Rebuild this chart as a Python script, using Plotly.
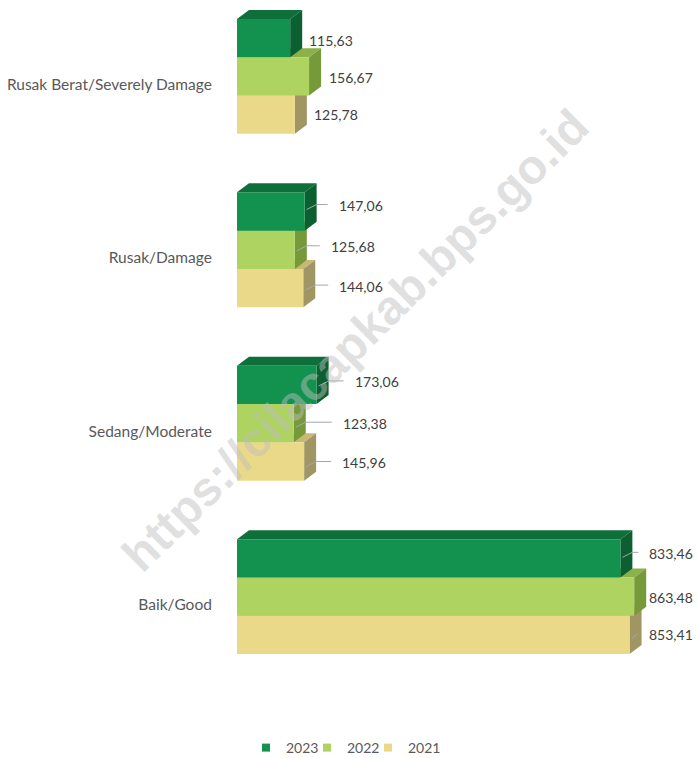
import plotly.graph_objects as go

# ---------------- data (bottom -> top order of categories) ----------------
categories = ["Baik/Good", "Sedang/Moderate", "Rusak/Damage", "Rusak Berat/Severely Damage"]
years = ["2021", "2022", "2023"]
values_2021 = [853.41, 145.96, 144.06, 125.78]
values_2022 = [863.48, 123.38, 125.68, 156.67]
values_2023 = [833.46, 173.06, 147.06, 115.63]
series_values = [values_2021, values_2022, values_2023]

# ---------------- styles ----------------
front_colors = ["#EBD98A", "#AED360", "#12924E"]
side_colors = ["#A09664", "#76993A", "#0B5F31"]
top_colors = ["#C8B873", "#8CB04A", "#0E6F3A"]

# label style per category (gap from side face in px, vertical shift in px, leader line)
label_gap = [[5, 1, 15], [24, 35, 24], [22, 22, 20], [5, 6, 5]]
label_dy = [[0, 1, -5], [1, 0, -3], [-2, -3, -6], [0, 1, 2]]
label_leader = [[True, False, True], [True, True, True], [True, True, True],
                [False, False, False]]

W, H = 697, 758
ML, MR, MT, MB = 237, 0, 7, 92
XR = [0, 1000]
YR = [-0.4, 3.4]
plot_w = W - ML - MR
plot_h = H - MT - MB
ux = (XR[1] - XR[0]) / plot_w      # data units per px (x)
uy = (YR[1] - YR[0]) / plot_h      # data units per px (y)
DX = 12 * ux                       # 3D depth offset
DY = 9 * uy
BW = 38.3 * uy                     # bar thickness

font_family = "Lato"
fig = go.Figure()
shapes = []
annotations = []


def fmt(v):
    return f"{v:.2f}".replace(".", ",")


for j, vals in enumerate(series_values):
    ys = [i + (j - 1) * BW for i in range(len(categories))]
    fig.add_trace(go.Bar(
        x=vals, y=ys, orientation="h", width=BW,
        marker=dict(color=front_colors[j], line=dict(width=0)),
        showlegend=False, name=years[j], hoverinfo="x",
    ))
    for i, v in enumerate(vals):
        y0 = ys[i] - BW / 2
        y1 = ys[i] + BW / 2
        # top face
        shapes.append(dict(
            type="path", xref="x", yref="y", layer="below",
            path=f"M 0,{y1} L {v},{y1} L {v + DX},{y1 + DY} L {DX},{y1 + DY} Z",
            fillcolor=top_colors[j], line=dict(width=0)))
        # side face
        shapes.append(dict(
            type="path", xref="x", yref="y", layer="below",
            path=f"M {v},{y0} L {v},{y1} L {v + DX},{y1 + DY} L {v + DX},{y0 + DY} Z",
            fillcolor=side_colors[j], line=dict(width=0)))
        # label
        tx = v + DX + label_gap[i][j] * ux
        ty = ys[i] - label_dy[i][j] * uy
        annotations.append(dict(
            x=tx, y=ty, xref="x", yref="y", text=fmt(v), showarrow=False,
            xanchor="left", yanchor="middle",
            font=dict(family=font_family, size=14, color="#404040")))
        if label_leader[i][j]:
            ly = ty + 1 * uy
            p1x = min(v + DX, tx - 9 * ux)
            pts = [(v + 2 * ux, ly - 5 * uy), (p1x, ly)]
            if tx - 9 * ux > p1x:
                pts.append((tx - 9 * ux, ly))
            path = "M " + " L ".join(f"{px},{py}" for px, py in pts)
            shapes.append(dict(type="path", xref="x", yref="y", layer="above",
                               path=path, line=dict(color="#A6A6A6", width=1)))

# legend entries (2023, 2022, 2021) + a blank spacer entry so the last label is not clipped
for j in [2, 1, 0]:
    fig.add_trace(go.Scatter(
        x=[None], y=[None], mode="markers", name=years[j],
        marker=dict(symbol="square", size=8, color=front_colors[j]),
        showlegend=True))
fig.add_trace(go.Scatter(
    x=[None], y=[None], mode="markers", name=" ",
    marker=dict(symbol="square", size=8, color="rgba(0,0,0,0)"),
    showlegend=True, hoverinfo="skip"))

# watermark
annotations.append(dict(
    x=(355 - ML) / plot_w, y=(MT + plot_h - 340) / plot_h, xref="paper", yref="paper",
    xanchor="center", yanchor="middle",
    text="https://cilacapkab.bps.go.id", showarrow=False, textangle=-44.7,
    font=dict(family="Liberation Sans", size=48, color="rgba(190,190,190,0.47)",
              weight="bold")))

fig.update_layout(
    width=W, height=H,
    margin=dict(l=ML, r=MR, t=MT, b=MB),
    paper_bgcolor="white", plot_bgcolor="white",
    barmode="overlay",
    shapes=shapes, annotations=annotations,
    font=dict(family=font_family, size=15, color="#595959"),
    xaxis=dict(range=XR, visible=False, fixedrange=True),
    yaxis=dict(range=YR, showgrid=False, zeroline=False, showline=False,
               fixedrange=True,
               tickmode="array",
               tickvals=[i - 8 * uy for i in range(len(categories))],
               ticktext=categories, ticks="outside", ticklen=21,
               tickcolor="rgba(0,0,0,0)",
               tickfont=dict(family=font_family, size=15.5, color="#595959")),
    legend=dict(orientation="h", xref="container", yref="container",
                x=368 / W, xanchor="center", y=1 - 748 / H, yanchor="middle",
                font=dict(family=font_family, size=14, color="#595959"),
                itemwidth=30, entrywidth=16, entrywidthmode="pixels"),
    showlegend=True,
)

fig.write_html("out.html", config={"displayModeBar": False},
               post_script="document.body.style.margin='0';document.body.style.padding='0';")
